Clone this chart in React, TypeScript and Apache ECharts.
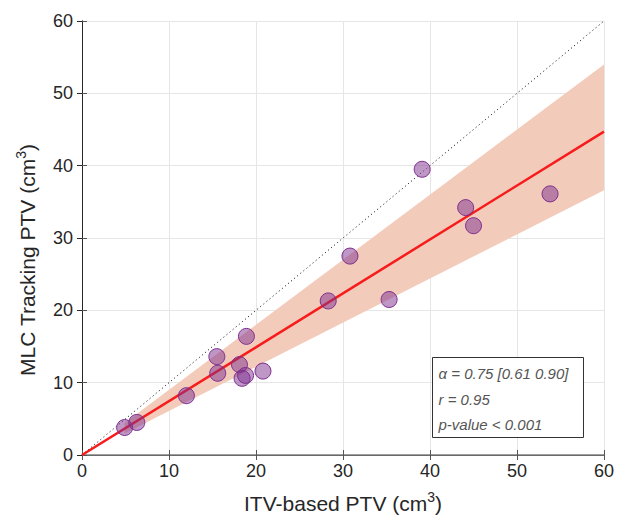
import React, { useEffect, useRef } from "react";
import * as echarts from "echarts";

const itvPTV = [4.9, 6.3, 12.0, 15.5, 15.6, 18.1, 18.4, 18.8, 18.9, 20.8, 28.3, 30.8, 35.3, 39.1, 44.1, 45.0, 53.8];
const mlcPTV = [3.8, 4.5, 8.2, 13.6, 11.3, 12.5, 10.6, 11.0, 16.4, 11.6, 21.3, 27.5, 21.5, 39.5, 34.2, 31.7, 36.1];
const slope = 0.745;
const slopeLow = 0.61;
const slopeHigh = 0.9;
const bandX = [4.9, 60];
const fitX = [0, 60];
const identityX = [0, 60];
const axisTicks = [0, 10, 20, 30, 40, 50, 60];
const statLines = ["α = 0.75 [0.61 0.90]", "r = 0.95", "p-value < 0.001"];

const FONT = "Liberation Sans, Arial, Helvetica, sans-serif";

export default function App() {
  const ref = useRef<HTMLDivElement>(null);
  useEffect(() => {
    if (!ref.current) return;
    const chart = echarts.init(ref.current, null, { renderer: "svg" });
    const bandPoly = [
      [bandX[0], slopeLow * bandX[0]],
      [bandX[1], slopeLow * bandX[1]],
      [bandX[1], slopeHigh * bandX[1]],
      [bandX[0], slopeHigh * bandX[0]],
    ];
    const baseAxis = {
      type: "value" as const,
      min: axisTicks[0],
      max: axisTicks[axisTicks.length - 1],
      interval: 10,
    };
    const nameRich = {
      sup: { fontSize: 14, fontFamily: FONT, color: "#262626", verticalAlign: "top" as const, padding: [0, 0, 12, 0] },
    };
    chart.setOption({
      animation: false,
      textStyle: { fontFamily: FONT },
      grid: { left: 82, right: 13, top: 21, bottom: 60, containLabel: false, outerBoundsMode: "none" },
      xAxis: [
        {
          ...baseAxis,
          position: "bottom",
          name: "ITV-based PTV (cm{sup|3})",
          nameLocation: "middle",
          nameGap: 35,
          nameTextStyle: { fontSize: 21, color: "#262626", fontFamily: FONT, rich: nameRich },
          axisLine: { lineStyle: { color: "#262626", width: 1 } },
          axisTick: { inside: true, length: 5, lineStyle: { color: "#555" } },
          axisLabel: { fontSize: 18, color: "#262626", margin: 7, fontFamily: FONT },
          splitLine: { show: true, lineStyle: { color: "#e6e6e6", width: 1 } },
        },
        {
          ...baseAxis,
          position: "top",
          axisLine: { show: true, lineStyle: { color: "#808080", width: 1.5 } },
          axisTick: { show: true, inside: true, length: 5, lineStyle: { color: "#555" } },
          axisLabel: { show: false },
          splitLine: { show: false },
        },
      ],
      yAxis: [
        {
          ...baseAxis,
          position: "left",
          name: "MLC Tracking PTV (cm{sup|3})",
          nameLocation: "middle",
          nameRotate: 90,
          nameGap: 42,
          nameTextStyle: { fontSize: 21, color: "#262626", fontFamily: FONT, rich: nameRich, padding: [0, 44, 0, 0] },
          axisLine: { show: true, lineStyle: { color: "#262626", width: 1 } },
          axisTick: { show: true, inside: true, length: 5, lineStyle: { color: "#555" } },
          axisLabel: { fontSize: 18, color: "#262626", margin: 9, fontFamily: FONT },
          splitLine: { show: true, lineStyle: { color: "#e6e6e6", width: 1 } },
        },
        {
          ...baseAxis,
          position: "right",
          axisLine: { show: true, lineStyle: { color: "#262626", width: 1 } },
          axisTick: { show: true, inside: true, length: 5, lineStyle: { color: "#262626" } },
          axisLabel: { show: false },
          splitLine: { show: false },
        },
      ],
      series: [
        {
          type: "custom",
          z: 1,
          silent: true,
          data: [0],
          renderItem: (_params: any, api: any) => ({
            type: "polygon",
            shape: { points: bandPoly.map((p) => api.coord(p)) },
            style: { fill: "#F3CBBA" },
          }),
        },
        {
          type: "line",
          z: 2,
          symbol: "none",
          silent: true,
          data: identityX.map((x) => [x, x]),
          lineStyle: { color: "#000", width: 1, type: [1, 3] },
        },
        {
          type: "line",
          z: 3,
          symbol: "none",
          silent: true,
          data: fitX.map((x) => [x, slope * x]),
          lineStyle: { color: "#f71b1b", width: 2.5 },
        },
        {
          type: "scatter",
          z: 4,
          symbolSize: 16,
          data: itvPTV.map((x, i) => [x, mlcPTV[i]]),
          itemStyle: { color: "rgba(126,47,142,0.5)", borderColor: "#7E2F8E", borderWidth: 1, opacity: 1 },
        },
      ],
      graphic: [
        {
          type: "group",
          left: 432,
          top: 357,
          z: 100,
          children: [
            {
              type: "rect",
              z: 100,
              shape: { x: 0, y: 0, width: 151, height: 80 },
              style: { fill: "#fff", stroke: "#333", lineWidth: 1 },
            },
            ...statLines.map((t, i) => ({
              type: "text",
              z: 101,
              x: 6,
              y: 16 + i * 25.5,
              style: {
                text: t,
                fontSize: 15,
                fontStyle: "italic",
                fontFamily: FONT,
                fill: "#555",
                textVerticalAlign: "middle",
              },
            })),
          ],
        },
      ],
    });
    return () => chart.dispose();
  }, []);
  return <div ref={ref} style={{ position: "absolute", left: 0, top: 0, width: 617, height: 515 }} />;
}
